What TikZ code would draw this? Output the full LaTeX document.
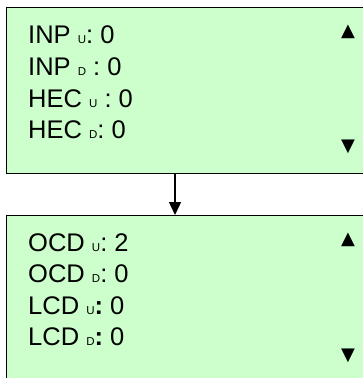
\documentclass[tikz,border=0pt]{standalone}
\usepackage{fontspec}
\setmainfont{Liberation Sans}
\newfontfamily\symfont{DejaVu Sans}
\usetikzlibrary{arrows.meta}
\definecolor{lcdgreen}{RGB}{204,255,204}
\newcommand{\lo}[1]{{\fontsize{11.5}{11.5}\selectfont #1}}
\begin{document}
\begin{tikzpicture}[x=1pt, y=-1pt,
    lcdbox/.style={draw, line width=1.4pt, fill=lcdgreen, anchor=north west, minimum width=364pt, inner sep=0pt},
    lcdline/.style={anchor=base west, inner sep=0pt, font=\fontsize{25.5}{25.5}\selectfont},
    lcdmark/.style={inner sep=0pt, font=\symfont\fontsize{18}{18}\selectfont}]
  \useasboundingbox (0,0) rectangle (362,378);

  \node[lcdbox, minimum height=166pt] (topbox) at (6,7) {};
  \node[lcdbox, minimum height=175pt] (botbox) at (6,215) {};
  \coordinate (tap) at (175,0);

  \draw[line width=1.4pt, -{Triangle[width=12pt,length=13pt]}] (topbox.south -| tap) -- (botbox.north -| tap);

  % upper screen
  \node[lcdline] (inpu) at (28,43)  {INP \lo{U}: 0};
  \node[lcdline] (inpd) at (28,75)  {INP \lo{D} : 0};
  \node[lcdline] (hecu) at (28,107) {HEC \lo{U} : 0};
  \node[lcdline] (hecd) at (28,138) {HEC \lo{D}: 0};
  \node[lcdmark] (upa) at (348,32)  {▲};
  \node[lcdmark] (dna) at (348,147) {▼};

  % lower screen
  \node[lcdline] (ocdu) at (28,251)   {OCD \lo{U}: 2};
  \node[lcdline] (ocdd) at (28,282.5) {OCD \lo{D}: 0};
  \node[lcdline] (lcdu) at (28,314)   {LCD \lo{U}\textbf{:} 0};
  \node[lcdline] (lcdd) at (28,345.5) {LCD \lo{D}\textbf{:} 0};
  \node[lcdmark] (upb) at (348,240) {▲};
  \node[lcdmark] (dnb) at (348,356) {▼};
\end{tikzpicture}
\end{document}
